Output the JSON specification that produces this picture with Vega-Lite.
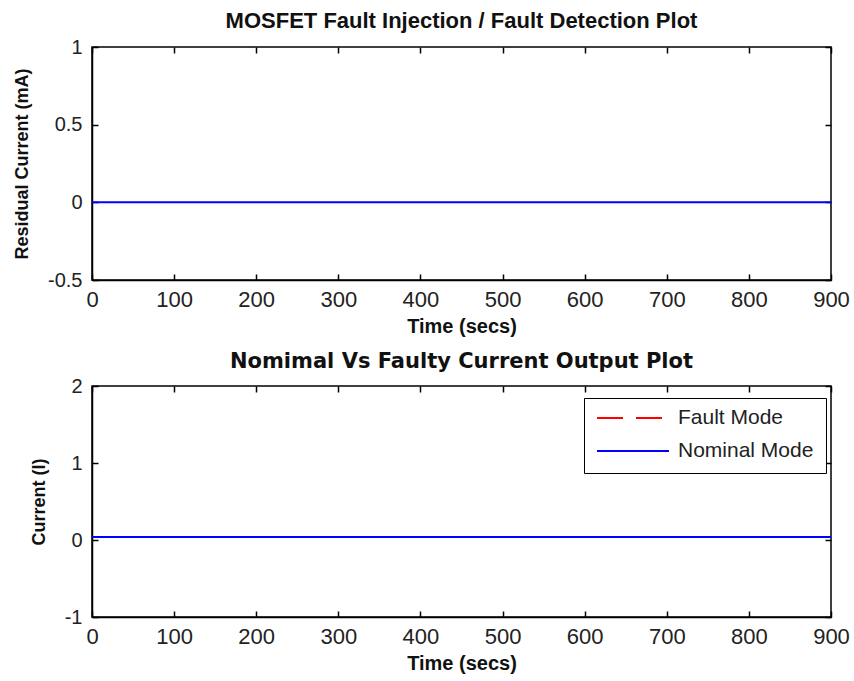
{
  "$schema": "https://vega.github.io/schema/vega-lite/v6.json",
  "background": "white",
  "padding": {"left": 12, "top": 9, "right": 22, "bottom": 8},
  "config": {
    "font": "Liberation Sans",
    "view": {"stroke": "black", "strokeWidth": 1.5},
    "axis": {
      "grid": false,
      "domainColor": "black",
      "domainWidth": 1.5,
      "tickColor": "black",
      "tickWidth": 1.5,
      "tickSize": -6,
      "labelFont": "Liberation Sans",
      "labelColor": "#222",
      "labelPadding": 16,
      "labelFlush": false,
      "labelOverlap": false,
      "titleFont": "Liberation Sans",
      "titleFontWeight": "bold",
      "titleColor": "#111"
    },
    "axisX": {"labelFontSize": 22, "titleFontSize": 20, "titlePadding": 6, "labelPadding": 15},
    "axisY": {"labelFontSize": 20, "titleFontSize": 18, "titlePadding": 16},
    "title": {"font": "Liberation Sans", "fontSize": 22, "fontWeight": "bold", "color": "#111", "offset": 4},
    "legend": {"labelFont": "Liberation Sans"}
  },
  "spacing": 13,
  "vconcat": [
    {
      "title": "MOSFET Fault Injection / Fault Detection Plot",
      "width": 739,
      "height": 233,
      "data": {"values": [
        {"t": 0, "r": 0},
        {"t": 900, "r": 0}
      ]},
      "layer": [
        {
          "mark": {"type": "line", "color": "#0000FF", "strokeWidth": 2},
          "encoding": {
            "x": {"field": "t", "type": "quantitative", "scale": {"domain": [0, 900], "nice": false, "zero": false},
                  "axis": {"title": "Time (secs)", "values": [0,100,200,300,400,500,600,700,800,900], "labelExpr": "'' + datum.value"}},
            "y": {"field": "r", "type": "quantitative", "scale": {"domain": [-0.5, 1], "nice": false, "zero": false},
                  "axis": {"title": "Residual Current (mA)", "values": [-0.5, 0, 0.5, 1], "labelExpr": "'' + datum.value"}}
          }
        },
        {
          "mark": {"type": "line", "opacity": 0},
          "encoding": {
            "x": {"field": "t", "type": "quantitative", "axis": {"orient": "top", "labels": false, "domain": false, "title": null, "values": [0,100,200,300,400,500,600,700,800,900]}},
            "y": {"field": "r", "type": "quantitative", "axis": {"orient": "right", "labels": false, "domain": false, "title": null, "values": [-0.5, 0, 0.5, 1]}}
          }
        }
      ],
      "resolve": {"axis": {"x": "independent", "y": "independent"}}
    },
    {
      "title": {"text": "Nomimal Vs Faulty Current Output Plot", "font": "DejaVu Sans", "fontSize": 21},
      "width": 739,
      "height": 231,
      "data": {"values": [
        {"t": 0, "I": 0.04, "mode": "Fault Mode"},
        {"t": 900, "I": 0.04, "mode": "Fault Mode"},
        {"t": 0, "I": 0.04, "mode": "Nominal Mode"},
        {"t": 900, "I": 0.04, "mode": "Nominal Mode"}
      ]},
      "layer": [
        {
          "mark": {"type": "line", "strokeWidth": 2},
          "encoding": {
            "x": {"field": "t", "type": "quantitative", "scale": {"domain": [0, 900], "nice": false, "zero": false},
                  "axis": {"title": "Time (secs)", "values": [0,100,200,300,400,500,600,700,800,900], "labelExpr": "'' + datum.value"}},
            "y": {"field": "I", "type": "quantitative", "scale": {"domain": [-1, 2], "nice": false, "zero": false},
                  "axis": {"title": "Current (I)", "values": [-1, 0, 1, 2], "labelExpr": "'' + datum.value"}},
            "color": {"field": "mode", "type": "nominal",
                      "scale": {"domain": ["Fault Mode", "Nominal Mode"], "range": ["#FF0000", "#0000FF"]},
                      "legend": {"title": null, "orient": "none", "legendX": 492, "legendY": 12,
                                 "symbolType": "stroke", "symbolSize": 5184, "symbolStrokeWidth": 2,
                                 "labelFontSize": 21, "labelColor": "#222", "labelOffset": 8,
                                 "strokeColor": "black", "fillColor": "white", "padding": 12,
                                 "clipHeight": 16, "rowPadding": 12}},
            "strokeDash": {"field": "mode", "type": "nominal",
                           "scale": {"domain": ["Fault Mode", "Nominal Mode"], "range": [[26, 13], [1, 0]]},
                           "legend": {"title": null}}
          }
        },
        {
          "mark": {"type": "line", "opacity": 0},
          "encoding": {
            "x": {"field": "t", "type": "quantitative", "axis": {"orient": "top", "labels": false, "domain": false, "title": null, "values": [0,100,200,300,400,500,600,700,800,900]}},
            "y": {"field": "I", "type": "quantitative", "axis": {"orient": "right", "labels": false, "domain": false, "title": null, "values": [-1, 0, 1, 2]}}
          }
        }
      ],
      "resolve": {"axis": {"x": "independent", "y": "independent"}}
    }
  ],
  "resolve": {"scale": {"color": "independent", "strokeDash": "independent"}, "legend": {"color": "independent", "strokeDash": "independent"}}
}
